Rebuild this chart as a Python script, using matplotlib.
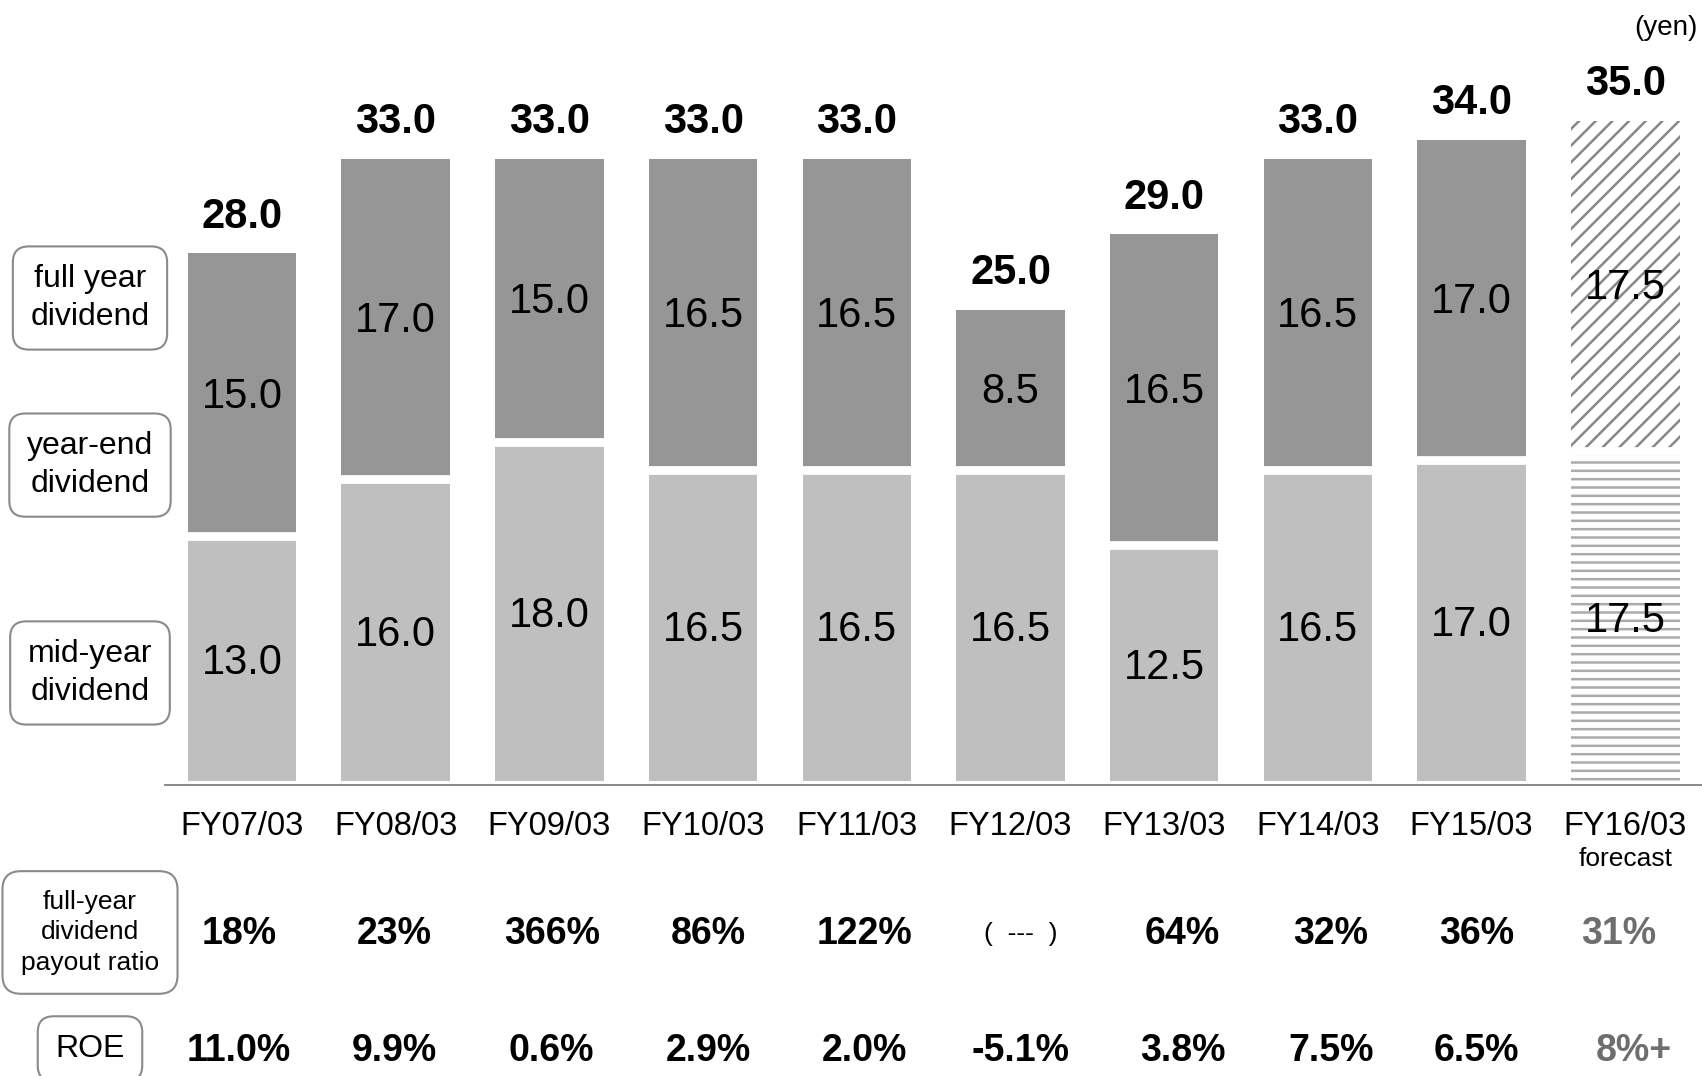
import matplotlib.pyplot as plt
import numpy as np

plt.rcParams['font.family'] = ['Liberation Sans', 'DejaVu Sans']
plt.rcParams['hatch.linewidth'] = 1.8

# data
years = ['FY07/03', 'FY08/03', 'FY09/03', 'FY10/03', 'FY11/03',
         'FY12/03', 'FY13/03', 'FY14/03', 'FY15/03', 'FY16/03']
mid_year = [13.0, 16.0, 18.0, 16.5, 16.5, 16.5, 12.5, 16.5, 17.0, 17.5]
year_end = [15.0, 17.0, 15.0, 16.5, 16.5, 8.5, 16.5, 16.5, 17.0, 17.5]
payout = ['18%', '23%', '366%', '86%', '122%', '(  ---  )', '64%', '32%', '36%', '31%']
roe = ['11.0%', '9.9%', '0.6%', '2.9%', '2.0%', '-5.1%', '3.8%', '7.5%', '6.5%', '8%+']
is_forecast = [False] * 9 + [True]

# layout: small horizontal nudges of the table columns (in bar units)
payout_dx = [-0.02, -0.01, 0.015, 0.035, 0.05, 0.065, 0.12, 0.085, 0.03, -0.04]
roe_dx = [-0.02, -0.01, 0.015, 0.035, 0.05, 0.065, 0.12, 0.085, 0.03, 0.055]

DARK = '#969696'
LIGHT = '#bfbfbf'

fig = plt.figure(figsize=(17.02, 10.76), dpi=100)
ax = fig.add_axes([0, 0, 1, 1])
ax.set_xlim(-1.5745, 9.499)
ax.set_ylim(-15.64, 41.41)
ax.axis('off')

x = np.arange(len(years))
w = 0.706

for i in x:
    if is_forecast[i]:
        ax.bar(i, mid_year[i], w, color='white', edgecolor='#ababab',
               hatch='--', linewidth=0)
        ax.bar(i, year_end[i], w, bottom=mid_year[i], color='white',
               edgecolor='#888888', hatch='//', linewidth=0)
    else:
        ax.bar(i, mid_year[i], w, color=LIGHT, linewidth=0)
        ax.bar(i, year_end[i], w, bottom=mid_year[i], color=DARK, linewidth=0)

# white gap between the two parts of each bar
ax.hlines(mid_year, x - w / 2 - 0.01, x + w / 2 + 0.01, colors='white',
          linewidth=6.3, zorder=3)

# baseline
ax.plot([-0.5, 9.5], [-0.21, -0.21], color='#7f7f7f', lw=1.3)

for i in x:
    total = mid_year[i] + year_end[i]
    ax.text(i, total + 1.93, f'{total:.1f}', ha='center', va='center',
            fontsize=30, fontweight='bold', zorder=5)
    ax.text(i, mid_year[i] / 2 - 0.25, f'{mid_year[i]:.1f}', ha='center',
            va='center', fontsize=30, zorder=5)
    ax.text(i, mid_year[i] + year_end[i] / 2 - 0.12, f'{year_end[i]:.1f}',
            ha='center', va='center', fontsize=30, zorder=5)
    ax.text(i, -2.39, years[i], ha='center', va='center', fontsize=23.5)

    col = '#6e6e6e' if is_forecast[i] else 'black'
    if payout[i].startswith('('):
        ax.text(i + payout_dx[i], -8.13, payout[i], ha='center', va='center',
                fontsize=19, color=col)
    else:
        ax.text(i + payout_dx[i], -8.13, payout[i], ha='center', va='center',
                fontsize=27, fontweight='bold', color=col)
    ax.text(i + roe_dx[i], -14.31, roe[i], ha='center', va='center',
            fontsize=27, fontweight='bold', color=col)

ax.text(9, -4.11, 'forecast', ha='center', va='center', fontsize=19)
ax.text(9.47, 39.93, '(yen)', ha='right', va='center', fontsize=20)

# legend-like boxes on the left
box = dict(boxstyle='round,pad=0.55,rounding_size=0.5', fc='white',
           ec='#8a8a8a', lw=1.5)
ax.text(-0.989, 25.61, 'full year\ndividend', ha='center', va='center',
        fontsize=23, linespacing=1.35, bbox=box)
ax.text(-0.989, 16.75, 'year-end\ndividend', ha='center', va='center',
        fontsize=23, linespacing=1.35, bbox=box)
ax.text(-0.989, 5.73, 'mid-year\ndividend', ha='center', va='center',
        fontsize=23, linespacing=1.35, bbox=box)
ax.text(-0.989, -8.03, 'full-year\ndividend\npayout ratio', ha='center',
        va='center', fontsize=19, linespacing=1.36,
        bbox=dict(boxstyle='round,pad=0.7,rounding_size=0.7', fc='white',
                  ec='#8a8a8a', lw=1.5))
ax.text(-0.989, -14.2, 'ROE', ha='center', va='center', fontsize=23,
        bbox=box)

fig.savefig('out.png', dpi=100)
